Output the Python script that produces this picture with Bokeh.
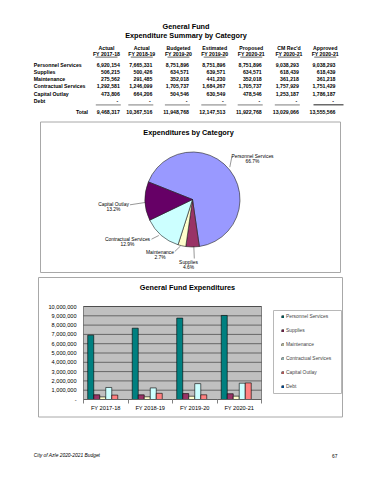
import numpy as np
from bokeh.plotting import figure
from bokeh.models import (ColumnDataSource, Range1d, Legend, LegendItem,
                          FixedTicker, NumeralTickFormatter)
from bokeh.transform import dodge
from bokeh.core.properties import value
from bokeh.embed import file_html
from bokeh.resources import INLINE

FONT = "Liberation Sans"

# ---------------- data ----------------
categories = ["Personnel Services", "Supplies", "Maintenance",
              "Contractual Services", "Capital Outlay", "Debt"]
col_line1 = ["Actual", "Actual", "Budgeted", "Estimated", "Proposed", "CM Rec'd", "Approved"]
col_line2 = ["FY 2017-18", "FY 2018-19", "FY 2019-20", "FY 2019-20",
             "FY 2020-21", "FY 2020-21", "FY 2020-21"]

personnel = [6920154, 7665331, 8751896, 8751896, 8751896, 9038293, 9038293]
supplies = [506215, 500426, 634571, 639571, 634571, 618439, 618439]
maintenance = [275562, 291485, 352018, 441230, 352018, 361218, 361218]
contractual = [1292581, 1246099, 1705737, 1684267, 1705737, 1757929, 1751429]
capital = [473806, 664206, 504546, 630549, 478546, 1253187, 1786187]
debt = [0, 0, 0, 0, 0, 0, 0]
totals = [9468317, 10367516, 11948768, 12147513, 11922768, 13029066, 13555566]

pie_column = 6                      # Approved FY 2020-21
bar_columns = [0, 1, 2, 6]
bar_labels = ["FY 2017-18", "FY 2018-19", "FY 2019-20", "FY 2020-21"]
y_ticks = list(range(0, 10_000_001, 1_000_000))

series = [personnel, supplies, maintenance, contractual, capital, debt]

# ---------------- page geometry (layout) ----------------
W, H = 354, 464
PX0, PY0 = 0, 0                     # page offset of the canvas
FL, FR, FT, FB = 83, 261, 306, 399  # bar chart plot area in page pixels
NG = len(bar_labels)
YMAX = y_ticks[-1]

x_range = Range1d(NG * (PX0 - FL) / (FR - FL), NG * (PX0 + W - FL) / (FR - FL))
y_range = Range1d(YMAX * (FB - (PY0 + H)) / (FB - FT), YMAX * (FB - PY0) / (FB - FT))

p = figure(width=W, height=H, x_range=x_range, y_range=y_range,
           toolbar_location=None, output_backend="svg", min_border=0)
p.extra_x_ranges = {"px": Range1d(PX0, PX0 + W)}
p.extra_y_ranges = {"py": Range1d(0, H)}
p.outline_line_color = None
p.background_fill_color = "white"
p.border_fill_color = "white"
p.xgrid.visible = False
p.ygrid.visible = False

PG = dict(x_range_name="px", y_range_name="py")


def Y(y):
    return PY0 + H - y


def fmt(v):
    return "-" if v == 0 else f"{v:,}"


def txt(xs, ys, texts, size, align="left", style="normal", color="black"):
    src = ColumnDataSource(dict(x=list(xs), y=[Y(v) for v in ys], t=list(texts)))
    p.text(x="x", y="y", text="t", source=src, text_font=value(FONT),
           text_font_size=value(size), text_align=align, text_baseline="middle",
           text_font_style=style, text_color=color, **PG)


def seg(x0, y0, x1, y1, color, width):
    p.segment(x0=list(x0), x1=list(x1), y0=[Y(v) for v in y0], y1=[Y(v) for v in y1],
              line_color=color, line_width=width, **PG)


def box(l, r, t, b, color):
    p.quad(left=[l], right=[r], top=[Y(t)], bottom=[Y(b)], fill_color=None,
           line_color=color, line_width=1, **PG)


# ---------------- table ----------------
txt([185.5], [25.7], ["General Fund"], "7.3px", "center", "bold")
txt([185.5], [35], ["Expenditure Summary by Category"], "7.3px", "center", "bold")

rights = [119.3, 151.8, 188.4, 224.8, 261.2, 298.3, 335.0]
hcent = [106.0, 141.3, 178.0, 214.2, 250.8, 288.5, 324.7]
txt(hcent, [47] * 7, col_line1, "5.2px", "center", "bold")
txt(hcent, [53.3] * 7, col_line2, "5.2px", "center", "bold")
seg([c - 11 for c in hcent], [56.6] * 7, [c + 11 for c in hcent], [56.6] * 7, "black", 0.6)

row_y = [64, 71.3, 78.5, 85.8, 93.2, 100.6]
txt([33.3] * 6, row_y, categories, "5.2px", "left", "bold")
for s, y in zip(series, row_y):
    xs = [r - 1.5 if v == 0 else r for r, v in zip(rights, s)]
    txt(xs, [y] * 7, [fmt(v) for v in s], "5.2px", "right", "bold")

seg([r - 24 for r in rights[:6]], [104.3] * 6, [r + 1 for r in rights[:6]], [104.3] * 6,
    "#b4b4b4", 1.8)
seg([rights[6] - 22], [104.3], [rights[6] + 8], [104.3], "#6a6a6a", 1.4)
txt([87.5], [111], ["Total"], "5.2px", "right", "bold")
txt(rights, [111] * 7, [fmt(v) for v in totals], "5.2px", "right", "bold")

# ---------------- pie ----------------
box(40, 340, 121.5, 272, "#a8a8a8")
txt([188], [132], ["Expenditures by Category"], "7.3px", "center", "bold")

pie_names = categories[:5]
pie_vals = [s[pie_column] for s in series[:5]]
pie_colors = ["#9999FF", "#993366", "#FFFFCC", "#CCFFFF", "#660066"]
frac = np.array(pie_vals, dtype=float) / sum(pie_vals)
cum = np.concatenate([[0.0], np.cumsum(frac)])
theta0 = np.deg2rad(158.3)
pie_src = ColumnDataSource(dict(
    start=list(theta0 - cum[:-1] * 2 * np.pi),
    end=list(theta0 - cum[1:] * 2 * np.pi),
    color=pie_colors))
cx, cy, rad = 192.0, 199.0, 47.5
p.wedge(x=cx, y=Y(cy), radius=rad, start_angle="start", end_angle="end",
        direction="clock", fill_color="color", line_color="#202020",
        line_width=0.6, source=pie_src, **PG)

# label anchors (layout) for: Personnel, Supplies, Maintenance, Contractual, Capital
lab_pos = [(252, 155.7), (188, 261.7), (159.5, 252.3), (127, 238.7), (113, 204.3)]
txt([q[0] for q in lab_pos], [q[1] for q in lab_pos], pie_names, "4.9px", "center")
txt([q[0] for q in lab_pos], [q[1] + 5 for q in lab_pos],
    [f"{f * 100:.1f}%" for f in frac], "4.9px", "center")
leaders = [((231.5, 155.5), (229.3, 166.7)), ((193.8, 258), (193.3, 245.5)),
           ((174.3, 251), (180, 245.5)), ((151, 238.7), (158.3, 235)),
           ((129.5, 204.3), (144.5, 202))]
seg([a[0] for a, b in leaders], [a[1] for a, b in leaders],
    [b[0] for a, b in leaders], [b[1] for a, b in leaders], "#303030", 0.5)

# ---------------- bar chart ----------------
box(38, 342, 277, 416.5, "#a8a8a8")
txt([187], [287], ["General Fund Expenditures"], "7.3px", "center", "bold")

p.quad(left=[0], right=[NG], bottom=[0], top=[YMAX], fill_color="#C0C0C0",
       line_color="#808080", line_width=1)
p.segment(x0=[0] * len(y_ticks), x1=[NG] * len(y_ticks), y0=y_ticks, y1=y_ticks,
          line_color="#2a2a2a", line_width=0.6)

xs = [i + 0.5 for i in range(NG)]
bar_src = ColumnDataSource(dict(x=xs, **{f"s{k}": [s[c] for c in bar_columns]
                                         for k, s in enumerate(series)}))
bar_colors = ["#008080", "#993366", "#FFFFCC", "#CCFFFF", "#FF8080", "#0066CC"]
bw = 0.135
rends = []
for k in range(len(series)):
    r = p.vbar(x=dodge("x", (k - 2.5) * bw), top=f"s{k}", width=bw,
               source=bar_src, fill_color=bar_colors[k], line_color="black",
               line_width=0.6)
    rends.append(r)

yax = p.yaxis[0]
yax.fixed_location = 0
yax.ticker = FixedTicker(ticks=y_ticks)
yax.formatter = NumeralTickFormatter(format="0,0")
yax.major_label_overrides = {0: "-"}
yax.axis_line_color = None
yax.major_tick_line_color = None
yax.minor_tick_line_color = None
yax.major_tick_out = 0
yax.major_tick_in = 0
yax.major_label_standoff = 7
yax.major_label_text_font = FONT
yax.major_label_text_font_size = "5.6px"
yax.major_label_text_color = "black"

xax = p.xaxis[0]
xax.fixed_location = 0
xax.bounds = (0, NG)
xax.ticker = FixedTicker(ticks=xs, minor_ticks=list(range(NG + 1)))
xax.major_label_overrides = {x: lab for x, lab in zip(xs, bar_labels)}
xax.major_tick_line_color = None
xax.major_tick_out = 0
xax.major_tick_in = 0
xax.minor_tick_out = 4
xax.minor_tick_in = 0
xax.minor_tick_line_color = "#808080"
xax.axis_line_color = "#606060"
xax.major_label_standoff = 1
xax.major_label_text_font = FONT
xax.major_label_text_font_size = "5.7px"
xax.major_label_text_color = "black"

box(273, 341, 310, 393, "#b8b8b8")
legend = Legend(items=[LegendItem(label=n, renderers=[r]) for n, r in zip(categories, rends)],
                location=(281, 75), margin=0, padding=10, spacing=8,
                label_height=6, label_width=10, glyph_width=3, glyph_height=3,
                label_standoff=2, label_text_font=FONT, label_text_font_size="4.9px",
                border_line_color=None, background_fill_alpha=0)
p.add_layout(legend)

# ---------------- footer ----------------
txt([33.3], [455], ["City of Azle 2020-2021 Budget"], "4.9px", "left", "italic")
txt([337], [455], ["67"], "4.9px", "right")

open("out.html", "w").write(file_html(p, INLINE))
